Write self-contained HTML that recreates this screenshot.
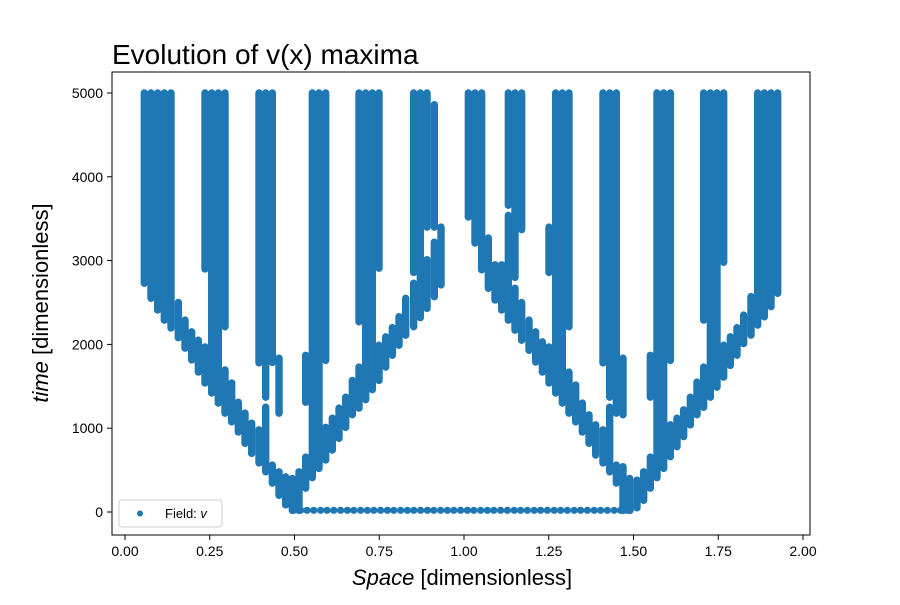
<!DOCTYPE html>
<html><head><meta charset="utf-8"><style>
body{margin:0;background:#fff;}
svg{font-family:"Liberation Sans","DejaVu Sans",sans-serif;}
</style></head><body>
<svg id="chart" width="900" height="600" viewBox="0 0 900 600">
<rect width="900" height="600" fill="#fff"/>
<text x="112" y="64" font-size="28" fill="#000">Evolution of v(x) maxima</text>
<g id="marks"></g>
<rect x="112" y="72" width="698" height="463" fill="none" stroke="#000" stroke-width="1"/>
<g id="xticks"></g>
<g id="yticks"></g>
<text x="462" y="585" font-size="22" text-anchor="middle"><tspan font-style="italic">Space</tspan> [dimensionless]</text>
<text transform="translate(48,303) rotate(-90)" font-size="22" text-anchor="middle"><tspan font-style="italic">time</tspan> [dimensionless]</text>
<g>
<rect x="119" y="500" width="103" height="27" rx="3" fill="#fff" stroke="#ccc"/>
<circle cx="140" cy="513.5" r="3" fill="#1f77b4"/>
<text x="165" y="518" font-size="13">Field: <tspan font-style="italic">v</tspan></text>
</g>
</svg>
<script>
const xTicks=[0,0.25,0.5,0.75,1.0,1.25,1.5,1.75,2.0];
const xTickLabels=["0.00","0.25","0.50","0.75","1.00","1.25","1.50","1.75","2.00"];
const yTicks=[0,1000,2000,3000,4000,5000];
const yTickLabels=["0","1000","2000","3000","4000","5000"];
// vertical runs of maxima: [x, tStart, tEnd]
const segX=[0.057,0.0767,0.0964,0.116,0.1357,0.1573,0.177,0.1967,0.2163,0.236,0.236,0.2557,0.2753,0.295,0.295,0.3147,0.3343,0.354,0.3736,0.3953,0.3953,0.415,0.415,0.4346,0.4346,0.4543,0.4543,0.474,0.4936,0.5133,0.533,0.533,0.5526,0.5723,0.592,0.592,0.6116,0.6313,0.651,0.6706,0.6903,0.6903,0.71,0.7296,0.7493,0.7493,0.769,0.7886,0.8083,0.828,0.8515,0.8515,0.8712,0.8909,0.8909,0.9125,0.9125,0.9322,
1.0128,1.0324,1.0521,1.0718,1.0914,1.1111,1.1308,1.1308,1.1504,1.1504,1.1701,1.1701,1.1917,1.2114,1.2311,1.2507,1.2507,1.2704,1.2901,1.3097,1.3097,1.3294,1.3491,1.3687,1.3884,1.41,1.41,1.4297,1.4297,1.4494,1.4494,1.469,1.469,1.4887,1.5103,1.53,1.5497,1.5497,1.5693,1.589,1.6087,1.6087,1.6283,1.648,1.6677,1.6873,1.707,1.707,1.7267,1.7463,1.766,1.766,1.7857,1.8053,1.825,1.8466,1.8663,1.886,1.9056,1.9253];
const segT0=[5000,5000,5000,5000,5000,2500,2290,2150,2050,5000,1970,5000,5000,5000,1695,1540,1310,1180,1060,5000,980,5000,1250,5000,560,1835,480,420,400,480,1870,655,5000,5000,5000,1010,1120,1240,1370,1570,5000,1730,5000,5000,5000,1990,2090,2200,2330,2550,5000,2730,5000,5000,3010,4860,3220,3400,
5000,5000,5000,3270,2950,2950,5000,3540,5000,2670,5000,2500,2290,2150,2030,3400,1970,5000,5000,5000,1670,1515,1300,1160,1040,5000,980,5000,1250,5000,560,1835,540,400,380,480,1870,655,5000,5000,5000,1040,1120,1220,1370,1550,5000,1730,5000,5000,5000,1990,2090,2200,2350,2570,5000,5000,5000,5000];
const segT1=[2730,2550,2410,2290,2195,2080,1955,1815,1670,2900,1540,1420,1300,2210,1180,1075,955,820,700,1780,585,1370,480,1785,345,1180,200,85,20,20,1310,285,410,520,1810,620,740,880,1010,1160,2270,1240,1340,1460,2910,1570,1730,1870,1990,2110,2860,2210,2320,3400,2430,3400,2570,2710,
3520,3210,2890,2670,2530,2410,3660,2290,2800,2170,3370,2050,1930,1790,1670,2860,1540,1420,1300,2210,1180,1075,955,820,680,1780,585,1370,480,1180,345,1160,20,20,50,140,1370,285,410,520,1810,660,780,900,1040,1160,2290,1250,1370,1490,2980,1610,1750,1870,2010,2110,2230,2330,2450,2610];
// bottom row of single maxima at t≈20
const baseX=[0.498,0.518,0.537,0.557,0.577,0.596,0.616,0.636,0.656,0.675,0.695,0.715,0.734,0.754,0.774,0.793,0.813,0.833,0.852,0.872,0.892,0.911,0.931,0.951,0.970,0.990,1.010,1.029,1.049,1.069,1.088,1.108,1.128,1.148,1.167,1.187,1.207,1.226,1.246,1.266,1.285,1.305,1.325,1.344,1.364,1.384,1.403,1.423,1.443,1.462,1.482,1.490];
const baseT=20;

const NS="http://www.w3.org/2000/svg";
const sx=v=>125+v*339;
const sy=v=>512-v*0.0838;
const marks=document.getElementById('marks');
for(let i=0;i<segX.length;i++){
  const l=document.createElementNS(NS,'line');
  l.setAttribute('x1',sx(segX[i]));l.setAttribute('x2',sx(segX[i]));
  l.setAttribute('y1',sy(segT0[i]));l.setAttribute('y2',sy(segT1[i]));
  l.setAttribute('stroke','#1f77b4');l.setAttribute('stroke-width','7.4');l.setAttribute('stroke-linecap','round');
  
  
  marks.appendChild(l);
}
for(let i=0;i<baseX.length;i++){
  const c=document.createElementNS(NS,'circle');
  c.setAttribute('cx',sx(baseX[i]));c.setAttribute('cy',sy(baseT));c.setAttribute('r','3.6');c.setAttribute('fill','#1f77b4');
  
  
  marks.appendChild(c);
}
const xg=document.getElementById('xticks');
xTicks.forEach((v,i)=>{
  const t=document.createElementNS(NS,'line');
  t.setAttribute('x1',sx(v));t.setAttribute('x2',sx(v));t.setAttribute('y1',535);t.setAttribute('y2',540);t.setAttribute('stroke','#000');
  
  
  xg.appendChild(t);
  const tx=document.createElementNS(NS,'text');
  tx.setAttribute('x',sx(v));tx.setAttribute('y',556);tx.setAttribute('font-size','14');tx.setAttribute('text-anchor','middle');
  tx.textContent=xTickLabels[i];
  
  
  xg.appendChild(tx);
});
const yg=document.getElementById('yticks');
yTicks.forEach((v,i)=>{
  const t=document.createElementNS(NS,'line');
  t.setAttribute('x1',107);t.setAttribute('x2',112);t.setAttribute('y1',sy(v));t.setAttribute('y2',sy(v));t.setAttribute('stroke','#000');
  
  
  yg.appendChild(t);
  const tx=document.createElementNS(NS,'text');
  tx.setAttribute('x',103);tx.setAttribute('y',sy(v)+5);tx.setAttribute('font-size','14');tx.setAttribute('text-anchor','end');
  tx.textContent=yTickLabels[i];
  
  
  yg.appendChild(tx);
});
</script>
</body></html>
